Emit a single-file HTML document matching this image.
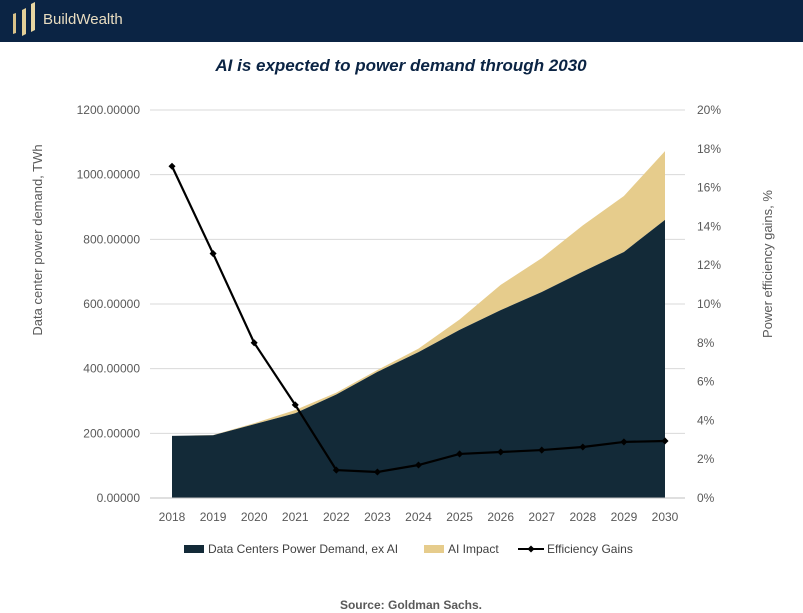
<!DOCTYPE html>
<html><head><meta charset="utf-8"><style>
body{margin:0;width:803px;height:613px;background:#fff;font-family:"Liberation Sans",sans-serif;overflow:hidden;position:relative}
#hdr{position:absolute;left:0;top:0;width:803px;height:42px;background:#0b2444}
</style></head><body>
<div id="hdr">
<svg width="200" height="42">
<polygon points="13,14 16,13 16,33 13,34" fill="#d9c28a"/>
<polygon points="22,10 26,8 26,34 22,36" fill="#e3cf98"/>
<polygon points="31,4 35,2 35,30 31,32" fill="#e8d6a2"/>
<text x="43" y="24" font-size="15" fill="#e8dcc0" font-family="Liberation Sans">BuildWealth</text>
</svg></div>
<svg id="c" width="803" height="613" style="position:absolute;left:0;top:0"></svg>
<script>
const years=['2018','2019','2020','2021','2022','2023','2024','2025','2026','2027','2028','2029','2030'];
const exAI=[192,194,228,262,320,390,451,520,581,637,700,761,860];
const total=[192,195,231,272,326,396,462,552,659,742,843,934,1073];
const eff=[17.1,12.6,8.0,4.8,1.44,1.34,1.7,2.27,2.37,2.47,2.63,2.89,2.94];
const leftTicks=['0.00000','200.00000','400.00000','600.00000','800.00000','1000.00000','1200.00000'];
const rightTicks=['0%','2%','4%','6%','8%','10%','12%','14%','16%','18%','20%'];
const svg=document.getElementById('c');const NS='http://www.w3.org/2000/svg';
function mk(t,a,p){const e=document.createElementNS(NS,t);for(const k in a)e.setAttribute(k,a[k]);(p||svg).appendChild(e);return e;}
const X0=172,DX=(665-172)/12,Y0=498,YT=110;
const x=i=>X0+i*DX, yl=v=>Y0-(v/1200)*(Y0-YT), yr=v=>Y0-(v/20)*(Y0-YT);
let t=mk('text',{x:401,y:71,'text-anchor':'middle','font-size':17,'font-weight':'bold','font-style':'italic',fill:'#0b2444'});t.textContent='AI is expected to power demand through 2030';


leftTicks.forEach((s,i)=>{const v=i*200,y=yl(v);
 if(i>0){const g=mk('line',{x1:150,x2:685,y1:y,y2:y,stroke:'#d9d9d9'});}
 const e=mk('text',{x:140,y:y+4,'text-anchor':'end','font-size':12,fill:'#595959'});e.textContent=s;
 
 });
rightTicks.forEach((s,i)=>{const e=mk('text',{x:697,y:yr(i*2)+4,'font-size':12,fill:'#595959'});e.textContent=s;
 
 });
years.forEach((s,i)=>{const e=mk('text',{x:x(i),y:521,'text-anchor':'middle','font-size':12,fill:'#595959'});e.textContent=s;
 
 });
function area(top,bot){let d='M'+x(0)+','+yl(top[0]);top.forEach((v,i)=>d+=' L'+x(i)+','+yl(v));
 for(let i=bot.length-1;i>=0;i--)d+=' L'+x(i)+','+(bot[i]===null?Y0:yl(bot[i]));return d+'Z';}
let a1=mk('path',{d:area(total,exAI),fill:'#e6cc8c'});
let a2=mk('path',{d:area(exAI,exAI.map(()=>null)),fill:'#132a38'});
const ax=mk('line',{x1:150,x2:685,y1:Y0,y2:Y0,stroke:'#bfbfbf'});
let ln=mk('polyline',{points:eff.map((v,i)=>x(i)+','+yr(v)).join(' '),fill:'none',stroke:'#000','stroke-width':2.2});

eff.forEach((v,i)=>{const m=mk('rect',{x:x(i)-2.5,y:yr(v)-2.5,width:5,height:5,fill:'#000',transform:`rotate(45 ${x(i)} ${yr(v)})`});
 });
let yt=mk('text',{transform:'translate(42,240) rotate(-90)','text-anchor':'middle','font-size':13,fill:'#595959'});yt.textContent='Data center power demand, TWh';

let rt=mk('text',{transform:'translate(772,264) rotate(-90)','text-anchor':'middle','font-size':13,fill:'#595959'});rt.textContent='Power efficiency gains, %';

let g=mk('g',{});
mk('rect',{x:184,y:545,width:20,height:8,fill:'#132a38'},g);
let l1=mk('text',{x:208,y:553,'font-size':12,fill:'#404040'},g);l1.textContent='Data Centers Power Demand, ex AI';

mk('rect',{x:424,y:545,width:20,height:8,fill:'#e6cc8c'},g);
let l2=mk('text',{x:448,y:553,'font-size':12,fill:'#404040'},g);l2.textContent='AI Impact';

mk('line',{x1:518,x2:544,y1:549,y2:549,stroke:'#000','stroke-width':2},g);
mk('rect',{x:528.5,y:546.5,width:5,height:5,fill:'#000',transform:'rotate(45 531 549)'},g);
let l3=mk('text',{x:547,y:553,'font-size':12,fill:'#404040'},g);l3.textContent='Efficiency Gains';

let src=mk('text',{x:411,y:609,'text-anchor':'middle','font-size':12,'font-weight':'bold',fill:'#595959'});src.textContent='Source: Goldman Sachs.';

</script></body></html>
